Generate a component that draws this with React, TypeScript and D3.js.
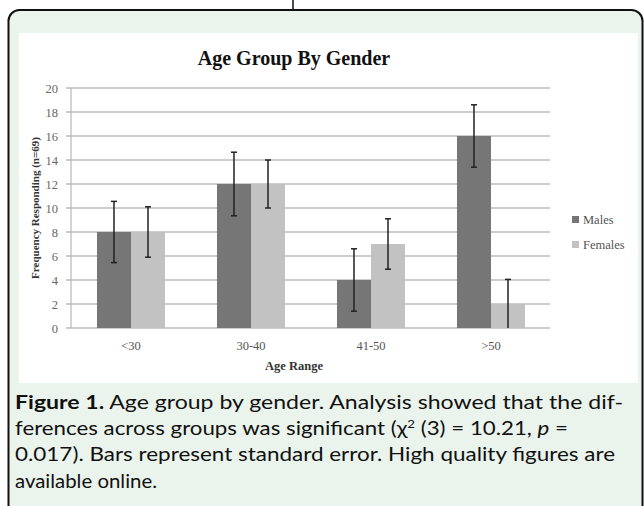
import React from "react";
import * as d3 from "d3";

const categories = ["<30", "30-40", "41-50", ">50"];
const seriesNames = ["Males", "Females"];
const males = [8, 12, 4, 16];
const females = [8, 12, 7, 2];
const malesErr = [2.55, 2.65, 2.6, 2.6];
const femalesErr = [2.1, 2.0, 2.1, 2.05];
const yTicks = [0, 2, 4, 6, 8, 10, 12, 14, 16, 18, 20];
const colors = ["#767676", "#c2c2c2"];

const W = 644;
const H = 506;

export default function App() {
  const x = d3
    .scaleBand<string>()
    .domain(categories)
    .range([71, 551])
    .paddingInner(0.433)
    .paddingOuter(0.2165);
  const xs = d3.scaleBand<string>().domain(seriesNames).range([0, x.bandwidth()]);
  const y = d3.scaleLinear().domain([0, 20]).range([328, 88]);
  const series = [
    { name: "Males", vals: males, err: malesErr },
    { name: "Females", vals: females, err: femalesErr },
  ];
  const serif = "'Liberation Serif', 'Times New Roman', serif";
  const sans = "Lato, 'Open Sans', sans-serif";
  return (
    <svg
      width={W}
      height={H}
      viewBox={`0 0 ${W} ${H}`}
      style={{ position: "absolute", left: 0, top: 0, background: "#fff" }}
    >
      <line x1={293} x2={293} y1={0} y2={10} stroke="#111" strokeWidth={1.5} />
      <rect x={8.5} y={10} width={634} height={520} rx={11} fill="#eaf4ec" stroke="#111" strokeWidth={2} />
      <rect x={19} y={33} width={619} height={350} fill="#fff" />
      <text x={294} y={65} textAnchor="middle" fontFamily={serif} fontWeight="bold" fontSize={20} fill="#111">
        Age Group By Gender
      </text>
      {yTicks.map((t) => (
        <g key={t}>
          <line x1={66} x2={550} y1={y(t)} y2={y(t)} stroke="#bdbdbd" strokeWidth={1.3} />
          <text x={58} y={y(t) + 4.5} textAnchor="end" fontFamily={serif} fontSize={12.5} fill="#666">
            {t}
          </text>
        </g>
      ))}
      <line x1={71} x2={71} y1={y(20)} y2={y(0)} stroke="#bdbdbd" strokeWidth={1.3} />
      {series.map((s, si) =>
        categories.map((c, ci) => {
          const bx = (x(c) as number) + (xs(s.name) as number);
          const bw = xs.bandwidth();
          return (
            <rect key={s.name + c} x={bx} y={y(s.vals[ci])} width={bw} height={y(0) - y(s.vals[ci])} fill={colors[si]} />
          );
        })
      )}
      {series.map((s) =>
        categories.map((c, ci) => {
          const cx = (x(c) as number) + (xs(s.name) as number) + xs.bandwidth() / 2;
          const top = y(s.vals[ci] + s.err[ci]);
          const bot = y(Math.max(0, s.vals[ci] - s.err[ci]));
          return (
            <g key={"e" + s.name + c} stroke="#222" strokeWidth={1.5}>
              <line x1={cx} x2={cx} y1={top} y2={bot} />
              <line x1={cx - 3} x2={cx + 3} y1={top} y2={top} />
              {s.vals[ci] - s.err[ci] > 0 && <line x1={cx - 3} x2={cx + 3} y1={bot} y2={bot} />}
            </g>
          );
        })
      )}
      {categories.map((c) => (
        <text key={c} x={(x(c) as number) + x.bandwidth() / 2} y={350} textAnchor="middle" fontFamily={serif} fontSize={12.5} fill="#555">
          {c}
        </text>
      ))}
      <text x={294} y={370} textAnchor="middle" fontFamily={serif} fontSize={12.5} fontWeight="bold" fill="#333">
        Age Range
      </text>
      <text
        transform={`translate(39,208) rotate(-90)`}
        textAnchor="middle"
        fontFamily={serif}
        fontSize={11}
        fontWeight="bold"
        fill="#333"
      >
        Frequency Responding (n=69)
      </text>
      {seriesNames.map((n, i) => (
        <g key={n}>
          <rect x={572} y={216 + i * 25} width={7} height={7} fill={colors[i]} />
          <text x={583} y={224 + i * 25} fontFamily={serif} fontSize={12.5} fill="#555">
            {n}
          </text>
        </g>
      ))}
      <g fontFamily={sans} fontSize={18.5} fill="#111">
        <text x={15} y={409} textLength={608} lengthAdjust="spacingAndGlyphs">
          <tspan fontWeight="bold">Figure 1.</tspan> Age group by gender. Analysis showed that the dif-
        </text>
        <text x={15} y={435} textLength={553} lengthAdjust="spacingAndGlyphs">
          ferences across groups was significant (χ<tspan fontSize={11} dy={-7}>2</tspan>
          <tspan dy={7}> (3) = 10.21, </tspan>
          <tspan fontStyle="italic">p</tspan> =
        </text>
        <text x={15} y={461} textLength={600} lengthAdjust="spacingAndGlyphs">
          0.017). Bars represent standard error. High quality figures are
        </text>
        <text x={15} y={488} textLength={142} lengthAdjust="spacingAndGlyphs">
          available online.
        </text>
      </g>
    </svg>
  );
}
